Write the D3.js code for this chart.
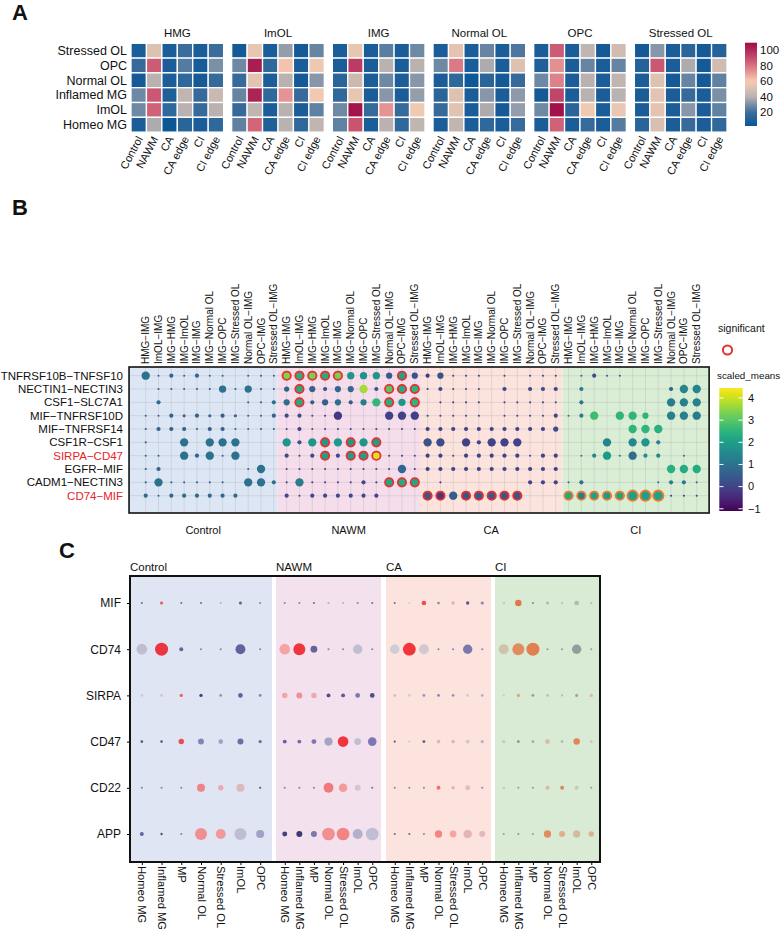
<!DOCTYPE html>
<html>
<head>
<meta charset="utf-8">
<script src="https://cdn.jsdelivr.net/npm/d3@7"></script>
<style>
body { margin: 0; background: #fff; }
text { font-family: "Liberation Sans", Arial, sans-serif; fill: #111; }
</style>
</head>
<body>
<svg id="fig" width="784" height="933"></svg>
<script>
// ---------- panel A data ----------
var cellTypes = ["Stressed OL", "OPC", "Normal OL", "Inflamed MG", "ImOL", "Homeo MG"];
var conditions = ["Control", "NAWM", "CA", "CA edge", "CI", "CI edge"];
var hmTitles = ["HMG", "ImOL", "IMG", "Normal OL", "OPC", "Stressed OL"];
var hmTicks = [20, 40, 60, 80, 100];
var hmHMG = [[8,52,8,20,8,20],[18,86,8,24,7,30],[6,40,8,16,6,18],[28,87,10,42,18,45],[28,84,16,40,18,40],[8,38,3,14,8,16]];
var hmImOL = [[6,55,8,34,6,27],[28,104,16,62,8,57],[18,54,8,40,6,32],[27,102,16,72,18,58],[18,42,8,40,8,26],[26,83,10,40,16,42]];
var hmIMG = [[8,55,8,25,8,28],[8,95,8,40,8,40],[14,46,8,28,8,32],[16,55,8,32,8,34],[28,107,18,72,18,58],[26,88,8,40,16,42]];
var hmNormalOL = [[8,54,8,27,8,23],[28,78,8,38,8,52],[8,16,4,14,6,18],[14,52,8,32,8,33],[18,53,8,38,6,34],[8,42,8,16,8,18]];
var hmOPC = [[8,86,8,42,6,48],[10,73,8,27,8,27],[28,76,8,40,8,42],[6,92,8,40,8,40],[28,108,14,58,8,56],[8,84,8,18,8,24]];
var hmStressedOL = [[6,32,8,14,6,12],[12,87,8,38,6,48],[8,52,6,27,6,26],[8,54,8,18,8,30],[8,54,8,32,8,26],[14,50,8,18,8,16]];
var hmValues = [hmHMG, hmImOL, hmIMG, hmNormalOL, hmOPC, hmStressedOL];

// ---------- panel B data ----------
var bPairs = ["HMG\u2212IMG","ImOL\u2212IMG","IMG\u2212HMG","IMG\u2212ImOL","IMG\u2212IMG","IMG\u2212Normal OL","IMG\u2212OPC","IMG\u2212Stressed OL","Normal OL\u2212IMG","OPC\u2212IMG","Stressed OL\u2212IMG"];
var bGroups = ["Control", "NAWM", "CA", "CI"];
var bRows = ["TNFRSF10B\u2212TNFSF10","NECTIN1\u2212NECTIN3","CSF1\u2212SLC7A1","MIF\u2212TNFRSF10D","MIF\u2212TNFRSF14","CSF1R\u2212CSF1","SIRPA\u2212CD47","EGFR\u2212MIF","CADM1\u2212NECTIN3","CD74\u2212MIF"];
var bRedRows = ["SIRPA\u2212CD47", "CD74\u2212MIF"];
var bSize = [
  [4,1,2,1,2,1,1,0,1,1,1, 4,4,4,4,4,3.5,3.5,3.5,3,4,3, 2,3,1,1,1,0,1,0,1,1,1, 0,1,2,1,1,0,0,0,0,0,0],
  [0,1,1,1,1,1,3.5,1,3.5,1,1, 2.5,4,3,2,3,3,4,2,4,4,4, 1,2,1,1,1,0,2,0,2,2,2, 0,2,0,0,0,0,0,0,2,4,4],
  [0,2,0,0,0,0,0,0,1,1,2, 3,4,2,3,3,2,3,4,4,3.5,4, 0,1,1,1,1,0,1,1,1,1,1, 0,2,0,0,0,0,0,0,4,4,4],
  [1,1,2,1.5,2,1.5,2,1.5,1,1,2, 2,2,1,1,4,0,0,0,4,4,4, 1,1,1,1,1,0,1,1,1,1,2, 1,2,4,0,4,4,3,0,4,4,4],
  [1,2,2,2,1,2,2,1,1,1,1, 1,2,1,1,1,1,1,1,1,1,1, 2,2,2,2,2,2,2,2,2,2,2.5, 0,0,0,0,0,4,4,4,0,0,0],
  [1,0,0,4,0,4,4,4,0,0,0, 4,2,4,4,4,4,4,4,0,0,0, 4,4,0,4,2,4,4,4,0,0,0, 0,0,0,4,0,4,4,2,0,0,0],
  [1,1,0,4,2,4,1,4,0,0,0, 2,1,2,4,2,4,4,4,1,1,1, 2,2,1,2,2,2,2,2,1,2,2, 0,1,2,4,1,4,2,2,0,1,0],
  [1,2,0,0,0,0,0,0,1,4,0, 1,1,1,1,1,1,1,1,1,4,1, 2,2,2,2,2,2,2,2,2,2,2, 0,0,0,0,0,0,0,0,4,4,4],
  [1,4,1,1,1,1,1,0,4,4,2, 1,4,1,1,1,1,2,1,4,4,4, 0,1,0,0,0,0,0,0,2,2,2, 1,2,0,0,0,0,0,1,2,2,1],
  [2,1,2,2,2,2,2,2,0,0,0, 2,1,2,2,2,2,2,2,0,0,0, 4,4,4,4,4,4,4,4,0,0,0, 4,4,4,4,4,5,5,5,1,1,1]
];
var bMean = [
  [1.0,.6,.7,.6,.7,.6,.6,0,.6,.6,.6, 3.4,2.4,3.3,2.3,3.3,1.8,1.7,1.8,.5,2.1,.3, -.2,.3,0,0,0,0,0,0,0,0,0, 0,.8,.2,.5,.5,0,0,0,0,0,0],
  [0,.6,.6,.6,.6,.6,1.0,.6,1.0,.6,.6, .6,2.3,.6,.3,.7,.8,3.7,.3,3.0,2.3,2.5, 0,.1,0,0,0,0,.1,0,.1,.1,.1, 0,1.2,0,0,0,0,0,0,.6,1.4,1.4],
  [0,.8,0,0,0,0,0,0,.6,.6,.9, .9,2.3,.5,.6,.9,.4,1.2,2.6,2.4,1.8,2.5, 0,0,0,0,0,0,0,0,0,0,.1, 0,1.1,0,0,0,0,0,0,1.2,1.3,1.3],
  [.6,.6,.6,.6,.6,.6,.6,.6,.6,.6,.6, .2,.2,0,0,-.2,0,0,0,0,0,-.1, 0,0,0,0,0,0,0,0,0,0,.1, 1.2,1.3,2.7,0,2.5,2.5,2.5,0,1.3,1.3,1.2],
  [.6,.6,.6,.6,.6,.6,.6,.6,.6,.6,.6, 0,0,0,0,0,0,0,0,0,0,0, 0,0,0,0,0,0,0,0,0,0,.2, 0,0,0,0,0,2.5,2.5,2.4,0,0,0],
  [.6,0,0,1.0,0,1.0,1.0,1.0,0,0,0, 1.8,.3,1.8,1.9,1.9,1.9,1.8,2.0,0,0,0, .3,.2,0,0,0,0,0,0,0,0,0, 0,0,0,1.4,0,1.5,1.8,1.3,0,0,0],
  [.6,.6,0,1.0,.6,1.0,.6,1.0,0,0,0, .1,0,.1,2.0,.1,2.0,2.0,4.2,0,0,0, 0,0,0,0,0,0,0,0,0,0,0, 0,1.2,1.5,1.9,1.2,.9,1.6,1.4,0,1.2,0],
  [.6,.6,0,0,0,0,0,0,.6,1.0,0, 0,0,0,0,0,0,0,0,0,.7,0, 0,0,0,0,0,0,0,0,0,0,0, 0,0,0,0,0,0,0,0,2.4,2.3,2.3],
  [.6,1.0,.6,.6,.6,.6,.6,0,1.0,1.0,.9, 0,1.2,0,0,0,0,.1,0,2.2,2.3,2.2, 0,0,0,0,0,0,0,0,0,0,0, .8,.9,0,0,0,0,0,1.0,1.3,1.1,1.0],
  [.8,.6,.8,.8,.8,.8,.8,.8,0,0,0, .1,0,.1,.1,.1,.1,.1,.1,0,0,0, .4,-.2,.5,.4,.4,.4,.4,.4,0,0,0, 2.2,1.2,2.0,1.9,2.1,2.0,2.0,2.1,0,0,0]
];
var bSig = [[0,11],[0,12],[0,13],[0,14],[0,15],[0,20],[1,12],[1,19],[1,20],[1,21],[2,12],[2,19],[2,21],
  [5,14],[5,16],[5,18],[6,14],[6,16],[6,17],[6,18],[8,19],[8,20],[8,21],
  [9,22],[9,23],[9,25],[9,26],[9,27],[9,28],[9,29],[9,33],[9,34],[9,35],[9,36],[9,37],[9,38],[9,39],[9,40]];
var bTicks = [4, 3, 2, 1, 0, -1];

// ---------- panel C data ----------
var cGenes = ["MIF", "CD74", "SIRPA", "CD47", "CD22", "APP"];
var cCells = ["Homeo MG", "Inflamed MG", "MP", "Normal OL", "Stressed OL", "ImOL", "OPC"];
var cGroups = ["Control", "NAWM", "CA", "CI"];
var cSize = [
  [.8,1.2,.8,.8,.8,1.2,.8, .8,.8,.8,.8,.8,.8,.8, .8,.8,1.8,1,1.3,1.3,1.2, 1,2.5,.8,1.2,.9,1.8,.9],
  [4.1,5,1.5,.8,.8,3.8,.8, 4.1,4.6,2.6,.8,.8,3.6,.8, 3.6,4.9,3.8,.8,.8,3.6,.8, 3.8,4.6,5,.8,.8,3.6,.8],
  [1.1,1.1,1.3,1.3,1.1,1.8,1.1, 2.1,2.3,2.1,1.5,1.5,1.8,1.8, 1.1,1.1,1.1,1.1,1.1,1.1,1.1, .8,1.2,1.1,1.1,.8,1.2,1.3],
  [1,1,2.1,2.3,1.8,2.3,1.3, 1.5,1.5,1.9,3.1,4.1,2.6,3.3, .8,.8,1.1,1.4,1.4,1.5,1.2, 1.3,1.1,1.1,1.8,1.1,2.5,1.1],
  [.8,.8,.8,3.1,2.1,3.1,.8, .8,.8,.8,3.8,3.3,2.3,.8, .8,.8,.8,1.5,1.3,1.9,.8, 1,.8,.8,1.5,1.5,1.5,.8],
  [1.5,.9,.8,4.6,3.8,4.6,3.1, 1.9,2.3,2.3,4.9,4.9,3.8,4.9, .8,.8,.8,2.8,2.6,3.3,2.3, .8,.8,.8,2.8,2.3,2.8,2.1]
];
var cExpr = [
  [-.5,1.7,-.5,-.5,0,-.6,-.3, -.3,-.3,-.5,0,0,-.3,-.5, -.5,.2,1.8,-.3,.8,-.7,-.3, .2,1.8,-.5,0,.3,0,.5],
  [.1,2,-.6,-.3,-.3,-.6,-.3, 1.0,2,-.6,-.3,-.3,.1,-.3, .2,2.2,.3,-.3,-.3,-.4,-.3, .4,1.5,1.7,-.3,-.3,-.3,-.3],
  [.2,.4,1.6,-.9,-.2,-.6,-.3, 1.0,1.2,.9,-.8,-.7,-.4,-.8, .6,.2,-.2,-.3,-.2,.3,0, .2,1.2,-.3,.1,0,-.2,.6],
  [-.8,-.7,1.8,-.3,-.1,-.5,-.5, -.6,-.5,-.4,-.1,2.0,.1,-.4, -.8,.2,-.7,.8,.8,.4,0, .2,-.4,-.2,.5,0,1.6,.4],
  [-.3,-.3,-.3,1.3,.9,.6,-.8, -.3,-.3,-.3,1.4,1.1,.3,-.5, -.3,-.3,-.3,1.5,.8,.5,-.3, .2,-.3,-.3,.6,1.6,.3,-.3],
  [-.6,-.8,-.3,1.2,1.1,.1,-.1, -.9,-1.0,-.4,1.2,1.3,0,.1, -.6,-.6,-.3,1.3,1.0,.7,.6, -.3,-.4,-.3,1.5,.9,.6,.8]
];

var svg = d3.select("#fig");
svg.append("rect").attr("width", 784).attr("height", 933).attr("fill", "#fff");

function letter(t, x, y) {
	svg.append("text").attr("x", x).attr("y", y).text(t)
		.style("font-size", "22px").style("font-weight", "bold");
}
letter("A", 12, 20);
letter("B", 12, 215);
letter("C", 59, 558);

// ================= panel A =================
var hmBand = d3.scaleBand().domain(hmTitles).range([131, 727]).paddingInner(0.08);
var hmRow = d3.scaleBand().domain(cellTypes).range([43.3, 132.1]);
var hmColor = d3.scaleLinear()
	.domain([2, 20, 40, 60, 80, 100, 110])
	.range(["#0a5596", "#3a6d9c", "#bab2b0", "#f6ccb2", "#d8707f", "#b02a5a", "#9e0b45"])
	.clamp(true);

hmTitles.forEach(function(title, h) {
	var x0 = hmBand(title);
	var hmCol = d3.scaleBand().domain(conditions).range([x0, x0 + hmBand.bandwidth()]);
	var g = svg.append("g");
	cellTypes.forEach(function(ct, r) {
		g.selectAll(null).data(hmValues[h][r]).enter().append("rect")
			.attr("x", function(d, c) { return hmCol(conditions[c]); })
			.attr("y", hmRow(ct))
			.attr("width", hmCol.bandwidth())
			.attr("height", hmRow.bandwidth())
			.attr("fill", function(d) { return hmColor(d); })
			.attr("stroke", "#fff")
			.attr("stroke-width", 1.3);
	});
	g.append("text").attr("x", x0 + hmBand.bandwidth() / 2).attr("y", 37)
		.attr("text-anchor", "middle").style("font-size", "11.5px").text(title);
	g.selectAll("text.cl").data(conditions).enter().append("text")
		.attr("class", "cl")
		.attr("transform", function(d) { return "translate(" + (hmCol(d) + hmCol.bandwidth() / 2 + 1) + ",137) rotate(-62)"; })
		.attr("text-anchor", "end").attr("dy", "0.35em")
		.style("font-size", "11px").text(function(d) { return d; });
});

svg.selectAll("text.hmrow").data(cellTypes).enter().append("text")
	.attr("class", "hmrow")
	.attr("x", 127).attr("y", function(d) { return hmRow(d) + hmRow.bandwidth() / 2; })
	.attr("dy", "0.35em").attr("text-anchor", "end")
	.style("font-size", "12.5px").text(function(d) { return d; });

// colour bar A
var hmLeg = d3.scaleLinear().domain([2.3, 109.4]).range([126, 42.7]);
var defs = svg.append("defs");
var gradA = defs.append("linearGradient").attr("id", "gradA")
	.attr("x1", 0).attr("y1", 1).attr("x2", 0).attr("y2", 0);
d3.range(0, 1.0001, 0.05).forEach(function(t) {
	var v = hmLeg.domain()[0] + t * (hmLeg.domain()[1] - hmLeg.domain()[0]);
	gradA.append("stop").attr("offset", t).attr("stop-color", hmColor(v));
});
svg.append("rect").attr("x", 745).attr("y", hmLeg(109.4)).attr("width", 12)
	.attr("height", hmLeg(2.3) - hmLeg(109.4)).attr("fill", "url(#gradA)");
svg.selectAll("text.hmtick").data(hmTicks).enter().append("text")
	.attr("class", "hmtick").attr("x", 760).attr("y", function(d) { return hmLeg(d); })
	.attr("dy", "0.35em").style("font-size", "11.5px").text(function(d) { return d; });

// ================= panel B =================
var xB = d3.scaleLinear().domain([0, 43]).range([145.7, 696.7]);
var yB = d3.scaleLinear().domain([0, 9]).range([375.7, 495.7]);
var bBounds = [-1.3, 10.27, 21.4, 32.52, 43.97];
var bBg = ["#dce6f5", "#f6ddec", "#fde3dd", "#d9eed5"];
var boxB = { top: 367, bottom: 513 };
var viridis = d3.scaleSequential(d3.interpolateViridis).domain([-1.1, 4.45]);
var rB = d3.scaleLinear().domain([0, 5]).range([0, 5.2]);

bGroups.forEach(function(g, i) {
	svg.append("rect").attr("x", xB(bBounds[i])).attr("y", boxB.top)
		.attr("width", xB(bBounds[i + 1]) - xB(bBounds[i]))
		.attr("height", boxB.bottom - boxB.top).attr("fill", bBg[i]);
	svg.append("text").attr("x", (xB(bBounds[i]) + xB(bBounds[i + 1])) / 2).attr("y", 534)
		.attr("text-anchor", "middle").style("font-size", "11px").text(g);
});

var bCols = [];
bGroups.forEach(function(g) { bPairs.forEach(function(p) { bCols.push(p); }); });

svg.selectAll("line.vg").data(bCols).enter().append("line")
	.attr("x1", function(d, i) { return xB(i); }).attr("x2", function(d, i) { return xB(i); })
	.attr("y1", boxB.top).attr("y2", boxB.bottom)
	.attr("stroke", "#b8b8b8").attr("stroke-opacity", 0.55).attr("stroke-width", 0.7);
svg.selectAll("line.hg").data(bRows).enter().append("line")
	.attr("x1", xB(bBounds[0])).attr("x2", xB(bBounds[4]))
	.attr("y1", function(d, i) { return yB(i); }).attr("y2", function(d, i) { return yB(i); })
	.attr("stroke", "#b8b8b8").attr("stroke-opacity", 0.55).attr("stroke-width", 0.7);

var sigSet = {};
bSig.forEach(function(s) { sigSet[s[0] + "_" + s[1]] = true; });
var bDots = [];
bRows.forEach(function(row, r) {
	bSize[r].forEach(function(s, c) {
		if (s > 0) bDots.push({ r: r, c: c, size: s, mean: bMean[r][c], sig: sigSet[r + "_" + c] === true });
	});
});
svg.selectAll("circle.bdot").data(bDots).enter().append("circle")
	.attr("class", "bdot")
	.attr("cx", function(d) { return xB(d.c); })
	.attr("cy", function(d) { return yB(d.r); })
	.attr("r", function(d) { return rB(d.size); })
	.attr("fill", function(d) { return viridis(d.mean); })
	.attr("stroke", function(d) { return d.sig ? (d.c >= 33 ? "#ef7b2c" : "#e8302e") : "none"; })
	.attr("stroke-width", 1.8);

svg.append("rect").attr("x", xB(bBounds[0])).attr("y", boxB.top)
	.attr("width", xB(bBounds[4]) - xB(bBounds[0])).attr("height", boxB.bottom - boxB.top)
	.attr("fill", "none").attr("stroke", "#111").attr("stroke-width", 1.6);

svg.selectAll("text.bcol").data(bCols).enter().append("text")
	.attr("class", "bcol")
	.attr("transform", function(d, i) { return "translate(" + xB(i) + ",364) rotate(-90)"; })
	.attr("dy", "0.35em").style("font-size", "10px").text(function(d) { return d; });

svg.selectAll("text.brow").data(bRows).enter().append("text")
	.attr("class", "brow")
	.attr("x", 123).attr("y", function(d, i) { return yB(i); }).attr("dy", "0.35em")
	.attr("text-anchor", "end").style("font-size", "11.5px")
	.style("fill", function(d) { return bRedRows.indexOf(d) >= 0 ? "#e8242a" : "#111"; })
	.text(function(d) { return d; });

// legend B
svg.append("text").attr("x", 718).attr("y", 332).style("font-size", "10.5px").text("significant");
svg.append("circle").attr("cx", 727.5).attr("cy", 350).attr("r", 4.6)
	.attr("fill", "none").attr("stroke", "#e8302e").attr("stroke-width", 2);
svg.append("text").attr("x", 717).attr("y", 379).style("font-size", "9.8px").text("scaled_means");
var yLegB = d3.scaleLinear().domain([-1.1, 4.45]).range([511, 388]);
var gradB = defs.append("linearGradient").attr("id", "gradB")
	.attr("x1", 0).attr("y1", 1).attr("x2", 0).attr("y2", 0);
d3.range(0, 1.0001, 0.05).forEach(function(t) {
	gradB.append("stop").attr("offset", t).attr("stop-color", d3.interpolateViridis(t));
});
svg.append("rect").attr("x", 719.3).attr("y", yLegB(4.45)).attr("width", 23.4)
	.attr("height", yLegB(-1.1) - yLegB(4.45)).attr("fill", "url(#gradB)");
bTicks.forEach(function(t) {
	svg.append("line").attr("x1", 719.3).attr("x2", 723.5).attr("y1", yLegB(t)).attr("y2", yLegB(t))
		.attr("stroke", "#fff").attr("stroke-width", 1);
	svg.append("line").attr("x1", 738.5).attr("x2", 742.7).attr("y1", yLegB(t)).attr("y2", yLegB(t))
		.attr("stroke", "#fff").attr("stroke-width", 1);
});
svg.selectAll("text.btick").data(bTicks).enter().append("text")
	.attr("class", "btick").attr("x", 748).attr("y", function(d) { return yLegB(d); })
	.attr("dy", "0.35em").style("font-size", "11px")
	.text(function(d) { return d < 0 ? "\u2212" + Math.abs(d) : d; });

// ================= panel C =================
var cExtent = [[130, 272], [276, 381], [386, 491], [495, 600]];
var cBg = ["#dfe5f3", "#f3e1ee", "#fde3dd", "#d9ebd5"];
var boxC = { left: 130, right: 600, top: 576, bottom: 862 };
var yC = d3.scalePoint().domain(cGenes).range([603, 834]);
var rC = d3.scaleLinear().domain([0, 5]).range([0, 6.5]);
var cColor = d3.scaleLinear().domain([-1, -0.4, 0.2, 1, 2])
	.range(["#22205e", "#6a68a8", "#c8c8d6", "#f29c9a", "#ee1e26"]).clamp(true);
var cColorCI = d3.scaleLinear().domain([-1, -0.4, 0.2, 1, 2])
	.range(["#3c4658", "#7e8890", "#c8c4b4", "#e2a27a", "#e05a26"]).clamp(true);

cGroups.forEach(function(g, gi) {
	var ext = cExtent[gi];
	var xC = d3.scalePoint().domain(cCells).range(ext).padding(0.6);
	svg.append("rect").attr("x", ext[0]).attr("y", boxC.top).attr("width", ext[1] - ext[0])
		.attr("height", boxC.bottom - boxC.top).attr("fill", cBg[gi]);
	svg.append("text").attr("x", ext[0]).attr("y", 571).style("font-size", "11.5px").text(g);

	var dots = [];
	cGenes.forEach(function(gene, r) {
		cCells.forEach(function(cell, c) {
			dots.push({ gene: gene, cell: cell, size: cSize[r][gi * 7 + c], expr: cExpr[r][gi * 7 + c] });
		});
	});
	var col = gi == 3 ? cColorCI : cColor;
	svg.selectAll(null).data(dots).enter().append("circle")
		.attr("cx", function(d) { return xC(d.cell); })
		.attr("cy", function(d) { return yC(d.gene); })
		.attr("r", function(d) { return rC(d.size); })
		.attr("fill", function(d) { return col(d.expr); })
		.attr("fill-opacity", 0.88);

	var ax = svg.append("g").attr("transform", "translate(0," + boxC.bottom + ")")
		.call(d3.axisBottom(xC).tickSize(3).tickSizeOuter(0));
	ax.select(".domain").remove();
	ax.selectAll("text").attr("transform", "rotate(90)").attr("x", 4).attr("y", 0)
		.attr("dy", "0.35em").attr("text-anchor", "start")
		.style("font-size", "11.2px").style("font-family", "Liberation Sans, Arial, sans-serif").style("fill", "#111");
});

var ayC = svg.append("g").attr("transform", "translate(" + boxC.left + ",0)")
	.call(d3.axisLeft(yC).tickSize(3).tickPadding(6));
ayC.select(".domain").remove();
ayC.selectAll("text").style("font-size", "12px").style("font-family", "Liberation Sans, Arial, sans-serif").style("fill", "#111");

svg.append("rect").attr("x", boxC.left).attr("y", boxC.top)
	.attr("width", boxC.right - boxC.left).attr("height", boxC.bottom - boxC.top)
	.attr("fill", "none").attr("stroke", "#111").attr("stroke-width", 2);
</script>
</body>
</html>
